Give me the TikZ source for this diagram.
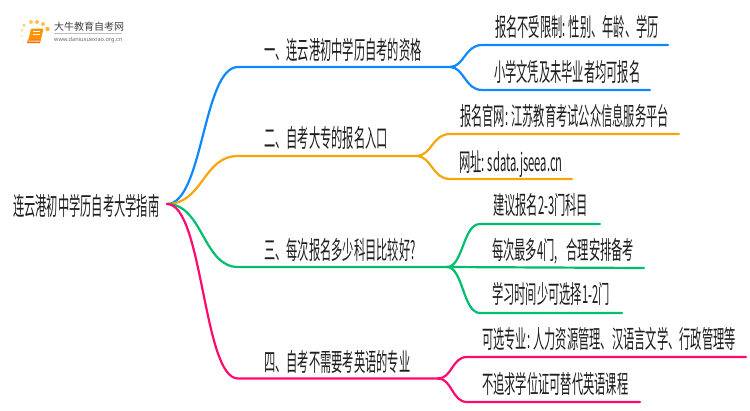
\documentclass[tikz,border=0pt]{standalone}
\usepackage{fontspec}
\newfontfamily\mapfont[FakeStretch=0.45]{Noto Sans CJK SC}
\newfontfamily\logofont{Noto Sans CJK SC}
\newfontfamily\urlfont{Noto Sans}
\definecolor{cblue}{RGB}{15,135,255}
\definecolor{corange}{RGB}{247,166,10}
\definecolor{cgreen}{RGB}{0,190,110}
\definecolor{cpink}{RGB}{255,10,110}
\definecolor{ctext}{RGB}{30,30,30}
\tikzset{
  x=1pt,y=-1pt,
  label text/.style={anchor=base west,inner sep=0pt,outer sep=0pt,text=ctext,font=\mapfont\fontsize{25}{27}\selectfont},
  link/.style={line width=2.2pt,line cap=round},
}
\begin{document}
\begin{tikzpicture}
\useasboundingbox (0,0) rectangle (750,410);
% logo
\foreach \px/\py/\sz/\op in {24/25/3.5/.55,31/22/4/.6,37/22/4/.7,43/24/4/.7,47.5/29/4.5/.8,22/30/3/.45,22/36/2.5/.3,23.5/42/2/.2}
  \fill[orange!70!yellow,opacity=\op] (\px,\py) circle ({\sz/2});
\fill[orange!85!yellow,rounded corners=1pt] (31,28.5) -- (43.5,28.5) -- (40.5,41.5) -- (28,41.5) -- cycle;
\fill[orange!80!red] (28,39.5) -- (40.5,39.5) -- (40,43) -- (27,43) -- cycle;
\fill[orange!15] (28.5,40.5) -- (39.8,40.5) -- (39.6,41.7) -- (28.2,41.7) -- cycle;
\draw[white,line width=.5pt] (33,31.5) -- (40,31.5) (32.5,34) -- (39.5,34);
\node[anchor=base west,inner sep=0pt,text=black!75,font=\logofont\fontsize{10}{11}\selectfont] (logotitle) at (54,30.5) {大牛教育自考网};
\draw[black!25,line width=.5pt] (54,33.5) -- (122,33.5);
\node[anchor=base west,inner sep=0pt,text=black!60,font=\urlfont\fontsize{5.6}{6}\selectfont] (logourl) at (54,41) {www.daniuxuexiao.org.cn};
% anchors
\coordinate (root) at (167,204);
\coordinate (b1s) at (238,67);   \coordinate (b1f) at (450,67);
\coordinate (b2s) at (238,156);  \coordinate (b2f) at (416,156);
\coordinate (b3s) at (238,267);  \coordinate (b3f) at (447,267);
\coordinate (b4s) at (238,378.5);\coordinate (b4f) at (438,378.5);
\coordinate (s11a) at (482,45);  \coordinate (s11b) at (668,45);
\coordinate (s12a) at (482,90);  \coordinate (s12b) at (650,90);
\coordinate (s21a) at (450,134); \coordinate (s21b) at (679,134);
\coordinate (s22a) at (450,179); \coordinate (s22b) at (572,179);
\coordinate (s31a) at (480,224); \coordinate (s31b) at (600,224);
\coordinate (s32b) at (644,268);
\coordinate (s33a) at (480,313); \coordinate (s33b) at (622,313);
\coordinate (s41a) at (467,357); \coordinate (s41b) at (746,357);
\coordinate (s42a) at (467,402); \coordinate (s42b) at (640,402);
% connectors
\draw[link,cblue] (root) .. controls (203,204) and (203,67) .. (b1s) -- (b1f);
\draw[link,cblue] (b1f) .. controls (464,67) and (465,45) .. (s11a) -- (s11b);
\draw[link,cblue] (b1f) .. controls (464,67) and (465,90) .. (s12a) -- (s12b);
\draw[link,corange] (root) .. controls (203,204) and (203,156) .. (b2s) -- (b2f);
\draw[link,corange] (b2f) .. controls (432,156) and (432,134) .. (s21a) -- (s21b);
\draw[link,corange] (b2f) .. controls (432,156) and (432,179) .. (s22a) -- (s22b);
\draw[link,cgreen] (root) .. controls (203,204) and (203,267) .. (b3s) -- (b3f);
\draw[link,cgreen] (b3f) .. controls (463,267) and (463,224) .. (s31a) -- (s31b);
\draw[link,cgreen] (b3f) -- (s32b);
\draw[link,cgreen] (b3f) .. controls (463,267) and (463,313) .. (s33a) -- (s33b);
\draw[link,cpink] (root) .. controls (203,204) and (203,378.5) .. (b4s) -- (b4f);
\draw[link,cpink] (b4f) .. controls (452,378.5) and (452,357) .. (s41a) -- (s41b);
\draw[link,cpink] (b4f) .. controls (452,378.5) and (452,402) .. (s42a) -- (s42b);
% labels
\node[label text] (t0) at (13,215) {连云港初中学历自考大学指南};
\node[label text] (t1) at (264,59.5) {一、连云港初中学历自考的资格};
\node[label text] (t2) at (264,147.5) {二、自考大专的报名入口};
\node[label text] (t3) at (264,259) {三、每次报名多少科目比较好?};
\node[label text] (t4) at (264,371) {四、自考不需要考英语的专业};
\node[label text] (t11) at (495,36.5) {报名不受限制: 性别、年龄、学历};
\node[label text] (t12) at (494,81) {小学文凭及未毕业者均可报名};
\node[label text] (t21) at (460,125.5) {报名官网: 江苏教育考试公众信息服务平台};
\node[label text] (t22) at (459,171) {网址: sdata.jseea.cn};
\node[label text] (t31) at (493,214.5) {建议报名2-3门科目};
\node[label text] (t32) at (492,259) {每次最多4门,\hspace{9pt}合理安排备考};
\node[label text] (t33) at (492,303) {学习时间少可选择1-2门};
\node[label text] (t41) at (482,348) {可选专业: 人力资源管理、汉语言文学、行政管理等};
\node[label text] (t42) at (482,393) {不追求学位证可替代英语课程};
\end{tikzpicture}
\end{document}
